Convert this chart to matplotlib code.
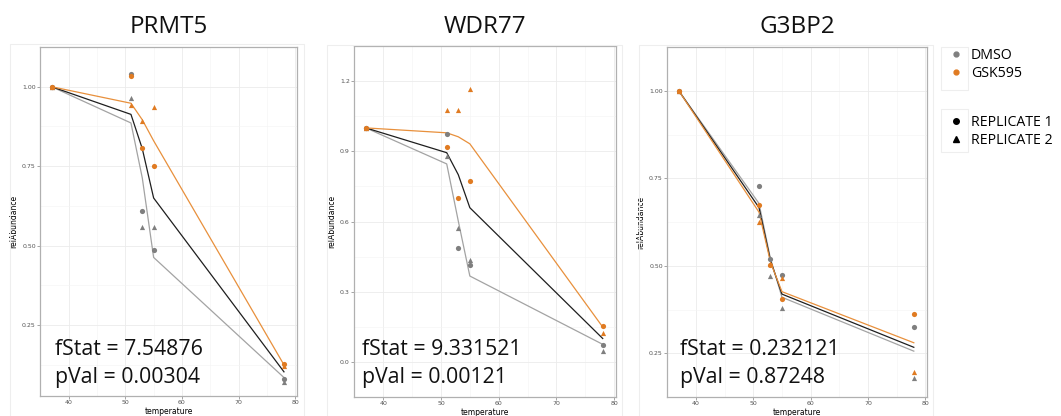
import numpy as np
import matplotlib.pyplot as plt
from matplotlib.lines import Line2D
from matplotlib.patches import Rectangle

plt.rcParams['font.family'] = ['Open Sans', 'DejaVu Sans']

W, H = 1061, 416

temps = [37, 51, 53, 55, 78]
proteins = ['PRMT5', 'WDR77', 'G3BP2']
f_stats = ['7.54876', '9.331521', '0.232121']
p_vals = ['0.00304', '0.00121', '0.87248']

# measured points: replicate 1 (circles), replicate 2 (triangles)
dmso_rep1 = {
    'PRMT5': [1.0, 1.04, 0.61, 0.486, 0.08],
    'WDR77': [1.0, 0.973, 0.485, 0.413, 0.074],
    'G3BP2': [1.0, 0.727, 0.52, 0.475, 0.326],
}
dmso_rep2 = {
    'PRMT5': [1.0, 0.966, 0.56, 0.56, 0.072],
    'WDR77': [1.0, 0.879, 0.573, 0.434, 0.046],
    'G3BP2': [1.0, 0.645, 0.47, 0.379, 0.178],
}
gsk_rep1 = {
    'PRMT5': [1.0, 1.035, 0.808, 0.752, 0.128],
    'WDR77': [1.0, 0.92, 0.70, 0.772, 0.153],
    'G3BP2': [1.0, 0.674, 0.502, 0.406, 0.362],
}
gsk_rep2 = {
    'PRMT5': [1.0, 0.944, 0.893, 0.937, 0.12],
    'WDR77': [1.0, 1.078, 1.078, 1.166, 0.123],
    'G3BP2': [1.0, 0.625, 0.506, 0.465, 0.197],
}

# fitted curves: DMSO, combined (null), GSK595
fit_dmso = {
    'PRMT5': [1.0, 0.886, 0.713, 0.463, 0.085],
    'WDR77': [1.0, 0.846, 0.602, 0.367, 0.075],
    'G3BP2': [1.0, 0.678, 0.52, 0.41, 0.256],
}
fit_null = {
    'PRMT5': [1.0, 0.913, 0.805, 0.65, 0.103],
    'WDR77': [1.0, 0.894, 0.80, 0.659, 0.10],
    'G3BP2': [1.0, 0.666, 0.515, 0.419, 0.267],
}
fit_gsk = {
    'PRMT5': [1.0, 0.948, 0.896, 0.83, 0.125],
    'WDR77': [1.0, 0.979, 0.962, 0.932, 0.149],
    'G3BP2': [1.0, 0.653, 0.51, 0.426, 0.28],
}

yticks = {
    'PRMT5': [0.25, 0.50, 0.75, 1.00],
    'WDR77': [0.0, 0.3, 0.6, 0.9, 1.2],
    'G3BP2': [0.25, 0.50, 0.75, 1.00],
}
yfmt = {'PRMT5': '{:.2f}', 'WDR77': '{:.1f}', 'G3BP2': '{:.2f}'}
ylims = {'PRMT5': (0.027, 1.088), 'WDR77': (-0.015, 1.222), 'G3BP2': (0.137, 1.04)}

# pixel boxes (left, right, top, bottom) of the plot areas and outer frames
boxes = [(40, 297, 47, 396), (354, 616, 46, 397), (667, 927, 47, 397)]
frames = [(10, 304, 44), (327, 622, 45), (639, 933, 45)]
stat_x = [55, 362, 680]

c_dmso = '#7f7f7f'
c_gsk = '#e07b22'

fig = plt.figure(figsize=(W / 100, H / 100), dpi=100)

for i, prot in enumerate(proteins):
    l, r, t, b = boxes[i]
    ax = fig.add_axes([l / W, 1 - b / H, (r - l) / W, (b - t) / H])

    ax.plot(temps, fit_dmso[prot], color='#a3a3a3', lw=0.9, zorder=2)
    ax.plot(temps, fit_null[prot], color='#1e1e1e', lw=0.9, zorder=2)
    ax.plot(temps, fit_gsk[prot], color='#e8903c', lw=0.9, zorder=2)

    ax.scatter(temps, dmso_rep1[prot], marker='o', s=14, color=c_dmso, lw=0, zorder=3)
    ax.scatter(temps, dmso_rep2[prot], marker='^', s=14, color=c_dmso, lw=0, zorder=3)
    ax.scatter(temps, gsk_rep1[prot], marker='o', s=14, color=c_gsk, lw=0, zorder=3)
    ax.scatter(temps, gsk_rep2[prot], marker='^', s=14, color=c_gsk, lw=0, zorder=3)

    ax.set_xlim(34.95, 80.3)
    ax.set_ylim(*ylims[prot])
    ax.set_xticks([40, 50, 60, 70, 80])
    ax.set_xticks([35, 45, 55, 65, 75], minor=True)
    yt = yticks[prot]
    ax.set_yticks(yt)
    ax.set_yticklabels([yfmt[prot].format(v) for v in yt])
    step = yt[1] - yt[0]
    ax.set_yticks([v - step / 2 for v in yt] + [yt[-1] + step / 2], minor=True)
    ax.grid(True, which='major', color='#ebebeb', lw=0.6)
    ax.grid(True, which='minor', color='#f4f4f4', lw=0.4)
    ax.set_axisbelow(True)
    for s in ax.spines.values():
        s.set_color('#b0b0b0')
        s.set_linewidth(0.9)
    ax.tick_params(which='major', length=2, width=0.5, color='#808080',
                   labelsize=4.5, labelcolor='#555555', pad=1)
    ax.tick_params(which='minor', length=0)
    ax.set_xlabel('temperature', fontsize=5.5, labelpad=1, family='DejaVu Sans')
    ax.set_ylabel('relAbundance', fontsize=5.5, labelpad=3, family='DejaVu Sans')
    for lab in ax.get_xticklabels() + ax.get_yticklabels():
        lab.set_family('DejaVu Sans')

    fig.text(((l + r) / 2) / W, 1 - 33 / H, prot, fontsize=17.5,
             ha='center', va='baseline', color='#111111')
    fig.text(stat_x[i] / W, 1 - 355 / H, 'fStat = ' + f_stats[i],
             fontsize=15.3, ha='left', va='baseline', color='#111111')
    fig.text(stat_x[i] / W, 1 - 383 / H, 'pVal = ' + p_vals[i],
             fontsize=15.3, ha='left', va='baseline', color='#111111')

    fl, fr, ft = frames[i]
    fig.add_artist(Rectangle((fl / W, -0.05), (fr - fl) / W, 1 - ft / H + 0.05,
                             transform=fig.transFigure, fill=False,
                             edgecolor='#eeeeee', lw=0.8))

# legends
treat_labels = ['DMSO', 'GSK595']
rep_labels = ['REPLICATE 1', 'REPLICATE 2']
h1 = [Line2D([], [], ls='', marker='o', ms=3.5, color=c) for c in (c_dmso, c_gsk)]
h2 = [Line2D([], [], ls='', marker=m, ms=4, color='black') for m in ('o', '^')]
for hs, labs, ytop, btop in ((h1, treat_labels, 45.5, 47), (h2, rep_labels, 112, 109)):
    leg = fig.legend(hs, labs, loc='upper left', bbox_to_anchor=(946 / W, 1 - ytop / H),
                     frameon=False, fontsize=10.2, handlelength=1.05, handletextpad=0.52,
                     borderpad=0.2, labelspacing=0.2, borderaxespad=0)
    fig.add_artist(Rectangle((941 / W, 1 - (btop + 43) / H), 27 / W, 43 / H,
                             transform=fig.transFigure, fill=False,
                             edgecolor='#eeeeee', lw=0.8))

fig.savefig('out.png', dpi=100)
